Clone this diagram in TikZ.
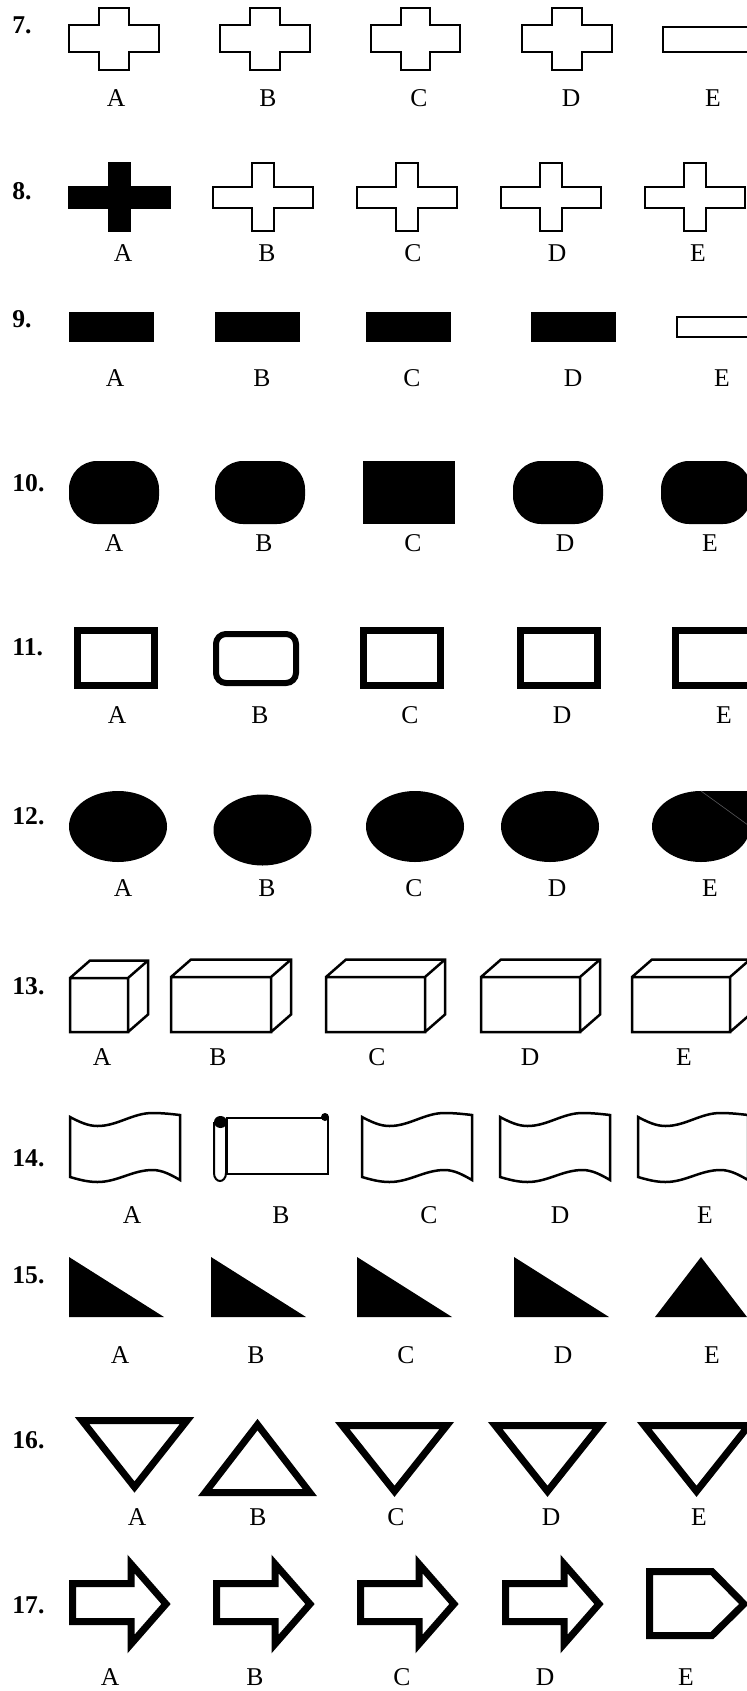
\documentclass[tikz,border=0pt]{standalone}
\usepackage{fontspec}
\setmainfont{Liberation Serif}
\usepackage{xcolor}
\usepackage{tikz}
\definecolor{gris}{HTML}{58585B}

\newcommand{\cruz}[8][]{\draw[#1] (#2+#4,#3) -- ++(#5,0) -- ++(0,#6) -- ++(#4,0) -- ++(0,#7) -- ++(-#4,0) -- ++(0,#8) -- ++(-#5,0) -- ++(0,-#8) -- ++(-#4,0) -- ++(0,-#7) -- ++(#4,0) -- cycle;}
\newcommand{\caja}[5][]{\draw[#1] (#2,#3) rectangle ++(#4,#5) (#2,#3) -- ++(20,-17.5) -- ++(#4,0) -- ++(0,#5) -- ++(-20,17.5) (#2+#4,#3) -- ++(20,-17.5);}
\newcommand{\bandera}[2][]{\draw[#1] (#2,1117) sin ++(27.5,9) cos ++(27.5,-6.5) sin ++(27.5,-6.5) cos ++(27.5,2) -- ++(0,65) sin ++(-27.5,-10) cos ++(-27.5,6) sin ++(-27.5,6) cos ++(-27.5,-5) -- cycle;}

\begin{document}
\begin{tikzpicture}[
  x=0.5pt, y=-0.5pt,
  letra/.style={font=\fontsize{12.8}{15}\selectfont, inner sep=0pt},
  numero/.style={font=\fontsize{12.8}{15}\selectfont\bfseries, anchor=west, inner sep=0pt},
  fino/.style={line width=0.8pt},
  medio/.style={line width=1.25pt},
  grueso/.style={line width=3.5pt}
]
  \useasboundingbox (0,0) rectangle (747,1691);
  \clip (0,0) rectangle (747,1691);

  \foreach \n/\y in {7/25, 8/191, 9/319, 10/483, 11/647, 12/816, 13/986, 14/1158, 15/1275, 16/1440, 17/1605}
    \node[numero] (n\n) at (12,\y) {\n.};

  \foreach \x in {69,220,522} \cruz[fino]{\x}{8}{30}{30}{17}{27}{18};
  \cruz[line width=1.3pt]{371}{8}{30}{29}{17}{27}{18};
  \draw[fino] (663,27) rectangle (760,52);
  \foreach \x/\t in {116/A,268/B,419/C,571/D,713/E} \node[letra] (f7\t) at (\x,98) {\t};

  \cruz[fino, fill=black]{69}{163}{40}{21}{24}{21}{23};
  \foreach \x in {213,357,501,645} \cruz[fino]{\x}{163}{39}{22}{24}{21}{23};
  \foreach \x/\t in {123/A,267/B,413/C,557/D,698/E} \node[letra] (f8\t) at (\x,253) {\t};

  \foreach \x in {69,215,366,531} \fill (\x,312) rectangle ++(85,30);
  \draw[fino] (677,317) rectangle (760,337);
  \foreach \x/\t in {115/A,262/B,412/C,573/D,722/E} \node[letra] (f9\t) at (\x,378) {\t};

  \foreach \x in {69,215,513,661} \fill[rounded corners=14pt] (\x,461) rectangle ++(90,63);
  \fill (363,461) rectangle (455,524);
  \foreach \x/\t in {114/A,264/B,413/C,565/D,710/E} \node[letra] (f10\t) at (\x,543) {\t};

  \foreach \x in {77.5,363.5,520.5,675.5} \draw[grueso] (\x,630.5) rectangle ++(77,55);
  \draw[line width=3pt, rounded corners=5pt] (216,634) rectangle (296,683);
  \foreach \x/\t in {117/A,260/B,410/C,562/D,724/E} \node[letra] (f11\t) at (\x,715) {\t};

  \foreach \x/\y in {118/826.5, 262.5/830, 415/826.5, 550/826.5, 701/826.5}
    \fill (\x,\y) ellipse [x radius=49, y radius=35.5];
  \fill (701,791) -- (752,791) -- (752,826.5) -- cycle;
  \draw[gris, line width=0.3pt] (701,791) -- (750,826.5);
  \foreach \x/\t in {123/A,267/B,414/C,557/D,710/E} \node[letra] (f12\t) at (\x,888) {\t};

  \caja[medio]{70}{978}{58}{54};
  \foreach \x/\w in {171/100, 326/99, 481/99, 632/98} \caja[medio]{\x}{977}{\w}{55};
  \foreach \x/\t in {102/A,218/B,377/C,530/D,684/E} \node[letra] (f13\t) at (\x,1057) {\t};

  \foreach \x in {70,362,500,638} \bandera[medio]{\x};
  \draw[line width=1pt] (227,1118) rectangle (328,1174);
  \draw[line width=1pt] (214,1122) -- (214,1173) .. controls (214,1178) and (217,1181) .. (220,1181)
    .. controls (223,1181) and (226,1178) .. (226,1173) -- (226,1122);
  \fill (220.5,1122) ellipse [x radius=6.5, y radius=6];
  \fill (325,1117) circle [radius=4];
  \foreach \x/\t in {132/A,281/B,429/C,560/D,705/E} \node[letra] (f14\t) at (\x,1215) {\t};

  \foreach \x in {69,211,357,514} \fill (\x,1257) -- ++(0,60) -- ++(95,0) -- cycle;
  \fill (701,1257) -- (747,1317) -- (655,1317) -- cycle;
  \foreach \x/\t in {120/A,256/B,406/C,563/D,712/E} \node[letra] (f15\t) at (\x,1355) {\t};

  \draw[grueso] (82,1420.5) -- (187,1420.5) -- (134.5,1487) -- cycle;
  \draw[grueso] (257.5,1424.6) -- (309.8,1492.5) -- (205.2,1492.5) -- cycle;
  \foreach \x in {342.2,495.2,644.2} \draw[grueso] (\x,1425.5) -- ++(104.6,0) -- ++(-52.3,65.8) -- cycle;
  \foreach \x/\t in {137/A,258/B,396/C,551/D,699/E} \node[letra] (f16\t) at (\x,1517) {\t};

  \foreach \x in {69,213,357,502}
    \draw[grueso] (\x+3.5,1583.5) -- (\x+62,1583.5) -- (\x+62,1564) -- (\x+97,1604) -- (\x+62,1644) -- (\x+62,1621.5) -- (\x+3.5,1621.5) -- cycle;
  \draw[grueso] (649.5,1571.5) -- (712,1571.5) -- (744,1604) -- (712,1635.5) -- (649.5,1635.5) -- cycle;
  \foreach \x/\t in {110/A,255/B,402/C,545/D,686/E} \node[letra] (f17\t) at (\x,1677) {\t};
\end{tikzpicture}
\end{document}
